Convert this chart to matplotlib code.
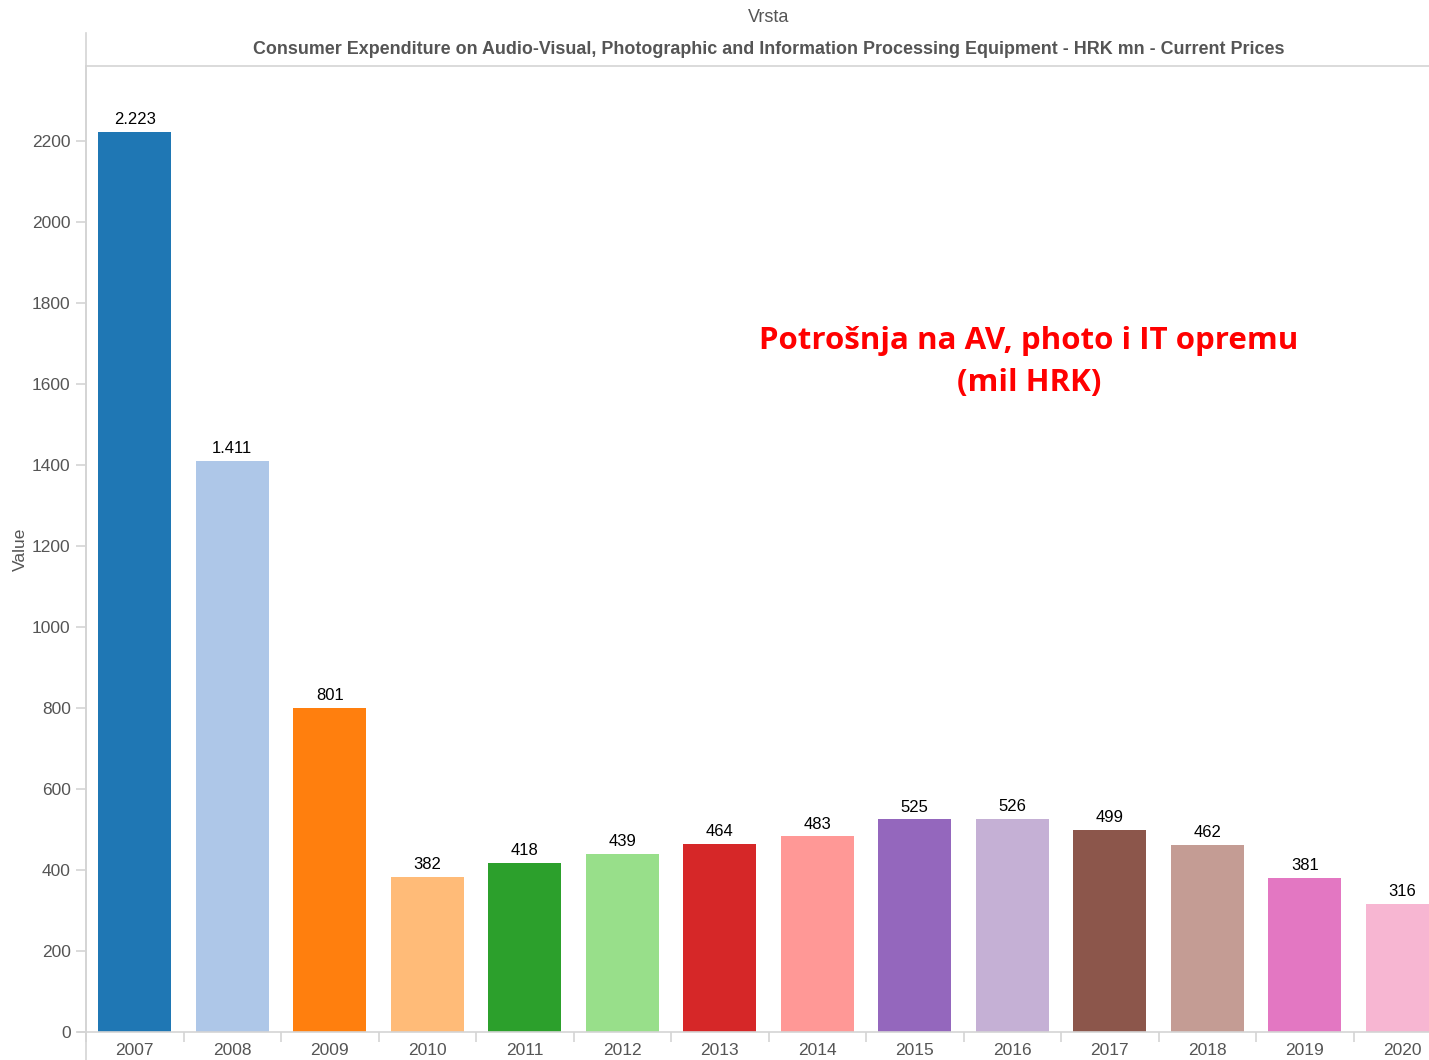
import matplotlib
matplotlib.use("Agg")
import matplotlib.pyplot as plt
from matplotlib.lines import Line2D
import numpy as np

years = ["2007", "2008", "2009", "2010", "2011", "2012", "2013", "2014",
         "2015", "2016", "2017", "2018", "2019", "2020"]
values = [2223, 1411, 801, 382, 418, 439, 464, 483, 525, 526, 499, 462, 381, 316]
value_labels = ["2.223", "1.411", "801", "382", "418", "439", "464", "483",
                "525", "526", "499", "462", "381", "316"]
yticks = [0, 200, 400, 600, 800, 1000, 1200, 1400, 1600, 1800, 2000, 2200]
header_field = "Vrsta"
header_title = ("Consumer Expenditure on Audio-Visual, Photographic and Information "
                "Processing Equipment - HRK mn - Current Prices")
annotation = "Potrošnja na AV, photo i IT opremu\n(mil HRK)"
y_label = "Value"

colors = [plt.cm.tab20(i) for i in range(len(years))]

plt.rcParams['font.family'] = ['Liberation Sans', 'DejaVu Sans']

W, H = 1429, 1060
fig = plt.figure(figsize=(W / 100, H / 100), dpi=100)
left, right, bottom, top = 86, 1429, 1032, 66
ax = fig.add_axes([left / W, 1 - bottom / H, (right - left) / W, (bottom - top) / H])

x = np.arange(len(years))
ax.bar(x, values, width=0.75, color=colors, zorder=2)

for xi, v, lab in zip(x, values, value_labels):
    ax.annotate(lab, (xi, v), xytext=(0, 3.5), textcoords="offset points",
                ha="center", va="bottom", fontsize=12, color="black")

gray_line = "#d4d4d4"
ax.spines["right"].set_visible(False)
for s in ["left", "bottom", "top"]:
    ax.spines[s].set_color(gray_line)
    ax.spines[s].set_linewidth(1.2)

ax.set_yticks(yticks)
ax.set_yticklabels([str(t) for t in yticks], fontsize=12.5, color="#555555")
ax.tick_params(axis="y", length=7, color=gray_line, width=1.2, pad=4)

ax.set_xticks(x)
ax.set_xticklabels(years, fontsize=12.5, color="#555555")
ax.set_xticks(np.arange(-0.5, len(years) + 0.5, 1.0), minor=True)
ax.tick_params(axis="x", which="major", length=0, pad=8)
ax.tick_params(axis="x", which="minor", length=7, color=gray_line, width=1.2)

col_w = 97.5
ax.set_xlim(-0.5, (right - left) / col_w - 0.5)
ax.set_ylim(0, (bottom - top) / 0.405)

ax.set_ylabel(y_label, fontsize=12.5, color="#555555")
ax.yaxis.set_label_coords(-(86 - 28) / (right - left), 0.5)

# header
cx = (-0.5 + 13.5) / 2
ax.text(cx, 1 + (66 - 50) / (bottom - top), header_title,
        transform=ax.get_xaxis_transform(), ha="center", va="center",
        fontsize=12.85, fontweight="bold", color="#555555", clip_on=False)
ax.text(cx, 1 + (66 - 17.5) / (bottom - top), header_field,
        transform=ax.get_xaxis_transform(), ha="center", va="center",
        fontsize=13, color="#555555", clip_on=False)

# left vertical border extending full height
fig.add_artist(Line2D([left / W, left / W], [0, 1 - 33 / H], color=gray_line, lw=1.2))
# bottom axis extension to the left
fig.add_artist(Line2D([78 / W, left / W], [1 - bottom / H, 1 - bottom / H], color=gray_line, lw=1.2))

fig.text(1029 / W, 1 - 362 / H, annotation, ha="center", va="center",
         fontsize=22.5, fontweight="bold", color="#ff0000", family=["Open Sans", "DejaVu Sans"],
         linespacing=1.55)

fig.savefig("out.png", dpi=100)
